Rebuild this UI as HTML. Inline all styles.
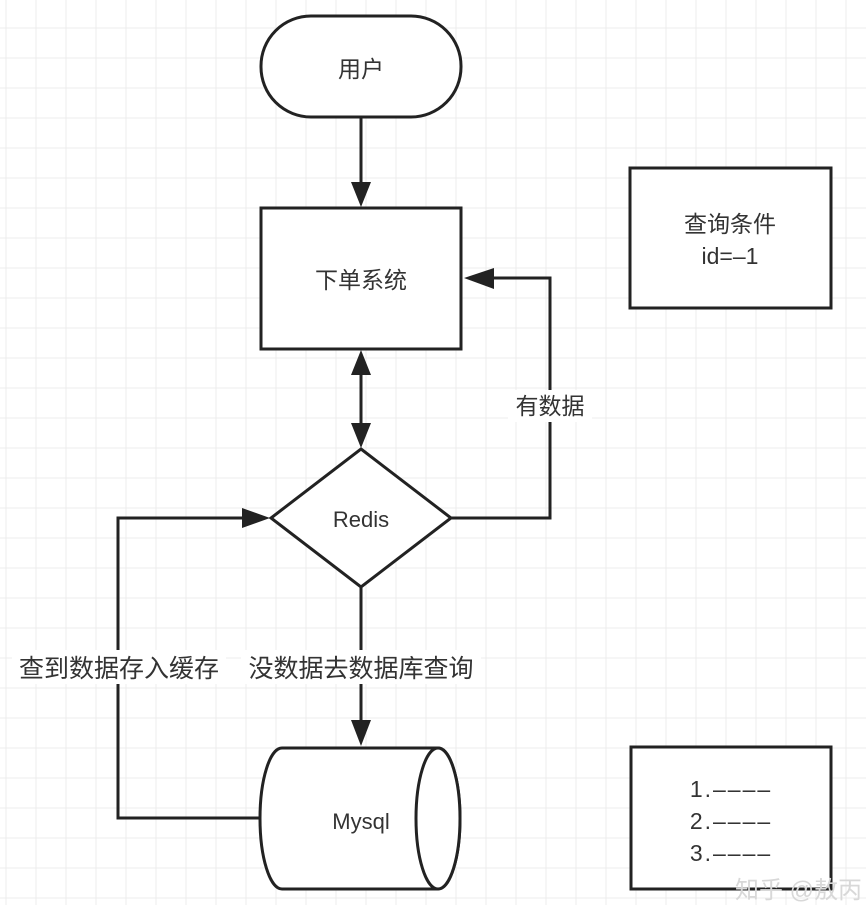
<!DOCTYPE html>
<html><head><meta charset="utf-8"><style>
html,body{margin:0;padding:0;background:#fff;}
svg{display:block;}
text{font-family:"Liberation Sans","Noto Sans CJK SC",sans-serif;fill:#333;}
.d{letter-spacing:2px;}
</style></head><body>
<svg width="866" height="905" viewBox="0 0 866 905" xmlns="http://www.w3.org/2000/svg">
<g stroke="#ececec" stroke-width="1">
<line x1="6" y1="0" x2="6" y2="905"/><line x1="36" y1="0" x2="36" y2="905"/><line x1="66" y1="0" x2="66" y2="905"/><line x1="96" y1="0" x2="96" y2="905"/><line x1="126" y1="0" x2="126" y2="905"/><line x1="156" y1="0" x2="156" y2="905"/><line x1="186" y1="0" x2="186" y2="905"/><line x1="216" y1="0" x2="216" y2="905"/><line x1="246" y1="0" x2="246" y2="905"/><line x1="276" y1="0" x2="276" y2="905"/><line x1="306" y1="0" x2="306" y2="905"/><line x1="336" y1="0" x2="336" y2="905"/><line x1="366" y1="0" x2="366" y2="905"/><line x1="396" y1="0" x2="396" y2="905"/><line x1="426" y1="0" x2="426" y2="905"/><line x1="456" y1="0" x2="456" y2="905"/><line x1="486" y1="0" x2="486" y2="905"/><line x1="516" y1="0" x2="516" y2="905"/><line x1="546" y1="0" x2="546" y2="905"/><line x1="576" y1="0" x2="576" y2="905"/><line x1="606" y1="0" x2="606" y2="905"/><line x1="636" y1="0" x2="636" y2="905"/><line x1="666" y1="0" x2="666" y2="905"/><line x1="696" y1="0" x2="696" y2="905"/><line x1="726" y1="0" x2="726" y2="905"/><line x1="756" y1="0" x2="756" y2="905"/><line x1="786" y1="0" x2="786" y2="905"/><line x1="816" y1="0" x2="816" y2="905"/><line x1="846" y1="0" x2="846" y2="905"/>
<line x1="0" y1="28" x2="866" y2="28"/><line x1="0" y1="58" x2="866" y2="58"/><line x1="0" y1="88" x2="866" y2="88"/><line x1="0" y1="118" x2="866" y2="118"/><line x1="0" y1="148" x2="866" y2="148"/><line x1="0" y1="178" x2="866" y2="178"/><line x1="0" y1="208" x2="866" y2="208"/><line x1="0" y1="238" x2="866" y2="238"/><line x1="0" y1="268" x2="866" y2="268"/><line x1="0" y1="298" x2="866" y2="298"/><line x1="0" y1="328" x2="866" y2="328"/><line x1="0" y1="358" x2="866" y2="358"/><line x1="0" y1="388" x2="866" y2="388"/><line x1="0" y1="418" x2="866" y2="418"/><line x1="0" y1="448" x2="866" y2="448"/><line x1="0" y1="478" x2="866" y2="478"/><line x1="0" y1="508" x2="866" y2="508"/><line x1="0" y1="538" x2="866" y2="538"/><line x1="0" y1="568" x2="866" y2="568"/><line x1="0" y1="598" x2="866" y2="598"/><line x1="0" y1="628" x2="866" y2="628"/><line x1="0" y1="658" x2="866" y2="658"/><line x1="0" y1="688" x2="866" y2="688"/><line x1="0" y1="718" x2="866" y2="718"/><line x1="0" y1="748" x2="866" y2="748"/><line x1="0" y1="778" x2="866" y2="778"/><line x1="0" y1="808" x2="866" y2="808"/><line x1="0" y1="838" x2="866" y2="838"/><line x1="0" y1="868" x2="866" y2="868"/><line x1="0" y1="898" x2="866" y2="898"/>
</g>
<g stroke="#222" stroke-width="3" fill="#fff">
<rect x="261" y="16" width="200" height="101" rx="50" ry="50"/>
<rect x="261" y="208" width="200" height="141"/>
<polygon points="361,449 451,518 361,587 271,518"/>
<path d="M282,748 H438 A22,70.5 0 0 1 438,889 H282 A22,70.5 0 0 1 282,748 Z"/>
<ellipse cx="438" cy="818.5" rx="22" ry="70.5"/>
<rect x="630" y="168" width="201" height="140"/>
<rect x="631" y="747" width="200" height="142"/>
</g>
<g stroke="#222" stroke-width="3" fill="none">
<line x1="361" y1="117" x2="361" y2="185"/>
<line x1="361" y1="372" x2="361" y2="428"/>
<polyline points="451,518 550,518 550,278 490,278"/>
<line x1="361" y1="587" x2="361" y2="722"/>
<polyline points="260,818 118,818 118,518 245,518"/>
</g>
<g fill="#222">
<polygon points="361,207 351,182 371,182"/>
<polygon points="361,350 351,375 371,375"/>
<polygon points="361,448 351,423 371,423"/>
<polygon points="464,278 494,268 494,289"/>
<polygon points="361,746 351,720 371,720"/>
<polygon points="270,518 242,508 242,528"/>
</g>
<rect x="508" y="390" width="84" height="32" fill="#fff"/>
<rect x="12" y="650" width="214" height="34" fill="#fff"/>
<rect x="241" y="650" width="240" height="34" fill="#fff"/>
<g font-size="23" text-anchor="middle">
<text x="361" y="77">用户</text>
<text x="361" y="288">下单系统</text>
<text x="361" y="527" font-size="22">Redis</text>
<text x="361" y="829" font-size="22">Mysql</text>
<text x="730" y="232">查询条件</text>
<text x="730" y="264">id=–1</text>
<text x="550" y="414">有数据</text>
<text x="119" y="677" font-size="25">查到数据存入缓存</text>
<text x="361" y="677" font-size="25">没数据去数据库查询</text>
<text x="731" y="797" class="d">1.––––</text>
<text x="731" y="829" class="d">2.––––</text>
<text x="731" y="861" class="d">3.––––</text>
</g>
<text x="735" y="898" font-size="24" style="fill:#d8d8d8">知乎 @敖丙</text>
</svg>
</body></html>
